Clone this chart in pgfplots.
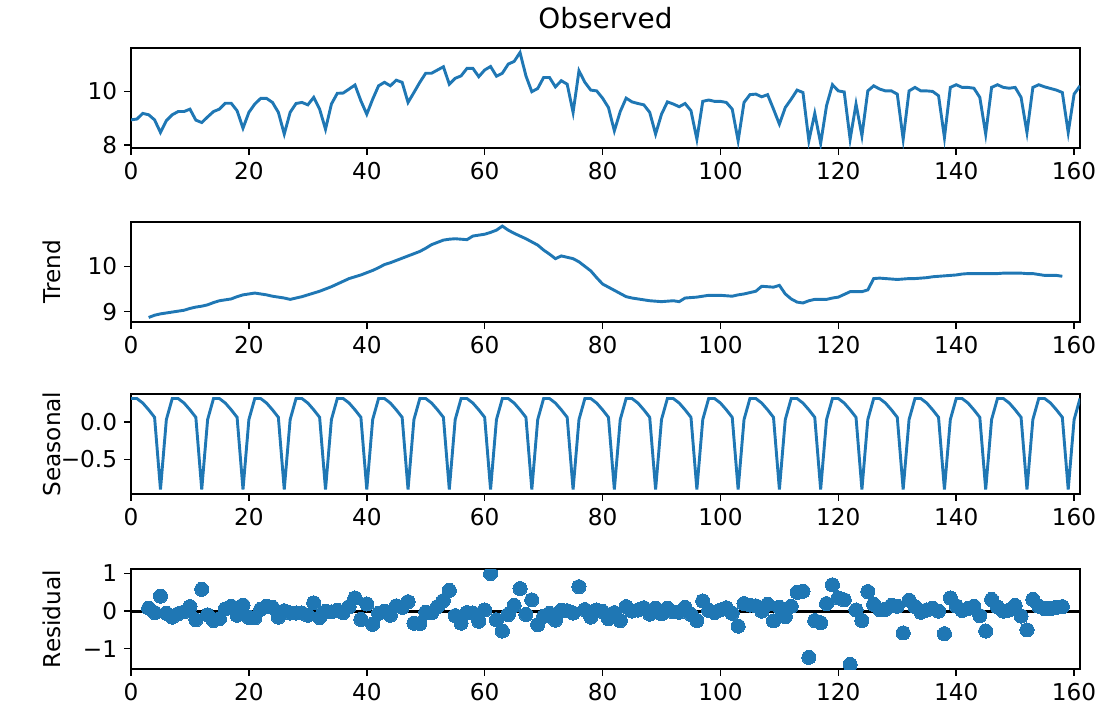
\documentclass[border=0pt]{standalone}
\usepackage{pgfplots}
\pgfplotsset{compat=1.18}
\usepackage{fontspec}
\setmainfont{DejaVu Sans}
\definecolor{c0}{HTML}{1F77B4}
\pgfplotsset{
  dec/.style={
    scale only axis, width=711.75pt, height=75pt,
    xmin=0, xmax=161,
    axis line style={line width=1.16pt, black},
    every tick/.style={line width=1.16pt, black},
    tick align=outside, major tick length=5.1pt,
    xtick pos=left, ytick pos=left,
    xtick={0,20,...,160}, xticklabels={0,20,40,60,80,100,120,140,160},
    tick label style={font=\fontsize{17.4}{20}\selectfont},
    xticklabel style={inner sep=0pt, yshift=-5.1pt},
    yticklabel style={inner sep=0pt, xshift=-5.1pt},
    label style={font=\fontsize{17.4}{20}\selectfont},
    ylabel style={at={(axis description cs:-0.0832,0.5)}, anchor=center},
    clip marker paths=true,
    anchor=south west,
  }
}
\begin{document}
\begin{tikzpicture}
\path[use as bounding box] (0,0) rectangle (826.5pt,-536.25pt);
% Observed
\begin{axis}[dec, at={(98.25pt,-111pt)},
  ymin=7.89, ymax=11.62, ytick={8,10}, yticklabels={8,10},
  title={Observed},
  title style={font=\fontsize{20.9}{24}\selectfont, at={(0.5,1)}, anchor=base, yshift=8.7pt, inner sep=0pt}]
\addplot[c0, line width=2.18pt] coordinates {
(0,8.94)(1,8.97)(2,9.18)(3,9.13)(4,8.94)(5,8.47)(6,8.91)(7,9.13)(8,9.25)(9,9.25)
(10,9.34)(11,8.93)(12,8.84)(13,9.05)(14,9.25)(15,9.34)(16,9.56)(17,9.56)(18,9.28)(19,8.63)
(20,9.22)(21,9.53)(22,9.74)(23,9.74)(24,9.59)(25,9.22)(26,8.41)(27,9.22)(28,9.55)(29,9.59)
(30,9.50)(31,9.78)(32,9.34)(33,8.59)(34,9.53)(35,9.93)(36,9.94)(37,10.09)(38,10.24)(39,9.65)
(40,9.15)(41,9.71)(42,10.21)(43,10.34)(44,10.21)(45,10.42)(46,10.34)(47,9.59)(48,9.96)(49,10.34)
(50,10.68)(51,10.68)(52,10.80)(53,10.92)(54,10.27)(55,10.49)(56,10.58)(57,10.86)(58,10.86)(59,10.55)
(60,10.80)(61,10.93)(62,10.57)(63,10.68)(64,11.02)(65,11.12)(66,11.45)(67,10.58)(68,9.99)(69,10.11)
(70,10.52)(71,10.52)(72,10.17)(73,10.40)(74,10.27)(75,9.22)(76,10.77)(77,10.34)(78,10.05)(79,10.02)
(80,9.75)(81,9.40)(82,8.53)(83,9.25)(84,9.75)(85,9.61)(86,9.55)(87,9.50)(88,9.22)(89,8.41)
(90,9.15)(91,9.61)(92,9.53)(93,9.43)(94,9.55)(95,9.28)(96,8.22)(97,9.63)(98,9.68)(99,9.63)
(100,9.63)(101,9.59)(102,9.34)(103,8.16)(104,9.59)(105,9.88)(106,9.90)(107,9.80)(108,9.88)(109,9.34)
(110,8.78)(111,9.40)(112,9.71)(113,10.05)(114,9.96)(115,8.16)(116,9.18)(117,8.06)(118,9.47)(119,10.25)
(120,10.02)(121,9.98)(122,8.22)(123,9.53)(124,8.35)(125,10.02)(126,10.21)(127,10.09)(128,10.02)(129,10.02)
(130,9.90)(131,8.22)(132,10.02)(133,10.15)(134,10.02)(135,10.02)(136,10.00)(137,9.84)(138,8.28)(139,10.15)
(140,10.25)(141,10.15)(142,10.15)(143,10.12)(144,9.78)(145,8.41)(146,10.15)(147,10.25)(148,10.15)(149,10.12)
(150,10.15)(151,9.78)(152,8.47)(153,10.15)(154,10.25)(155,10.17)(156,10.11)(157,10.05)(158,9.96)(159,8.47)
(160,9.90)(161,10.21)};
\end{axis}
% Trend
\begin{axis}[dec, at={(98.25pt,-241.5pt)},
  ymin=8.77, ymax=10.98, ytick={9,10}, yticklabels={9,10}, ylabel={Trend}]
\addplot[c0, line width=2.18pt] coordinates {
(3,8.87)(4,8.92)(5,8.95)(6,8.97)(7,8.99)(8,9.01)(9,9.03)
(10,9.07)(11,9.10)(12,9.12)(13,9.15)(14,9.20)(15,9.24)(16,9.26)(17,9.28)(18,9.33)(19,9.37)
(20,9.39)(21,9.41)(22,9.39)(23,9.37)(24,9.34)(25,9.32)(26,9.30)(27,9.27)(28,9.30)(29,9.33)
(30,9.37)(31,9.41)(32,9.45)(33,9.50)(34,9.55)(35,9.61)(36,9.67)(37,9.73)(38,9.77)(39,9.81)
(40,9.86)(41,9.91)(42,9.97)(43,10.04)(44,10.08)(45,10.13)(46,10.18)(47,10.23)(48,10.28)(49,10.33)
(50,10.40)(51,10.48)(52,10.53)(53,10.58)(54,10.60)(55,10.61)(56,10.60)(57,10.59)(58,10.67)(59,10.69)
(60,10.71)(61,10.75)(62,10.80)(63,10.89)(64,10.80)(65,10.73)(66,10.67)(67,10.61)(68,10.54)(69,10.47)
(70,10.36)(71,10.27)(72,10.17)(73,10.23)(74,10.20)(75,10.17)(76,10.10)(77,10.00)(78,9.90)(79,9.75)
(80,9.61)(81,9.54)(82,9.47)(83,9.40)(84,9.33)(85,9.30)(86,9.28)(87,9.26)(88,9.24)(89,9.23)
(90,9.22)(91,9.23)(92,9.24)(93,9.22)(94,9.30)(95,9.31)(96,9.32)(97,9.34)(98,9.36)(99,9.36)
(100,9.36)(101,9.35)(102,9.34)(103,9.37)(104,9.39)(105,9.42)(106,9.45)(107,9.56)(108,9.55)(109,9.54)
(110,9.58)(111,9.39)(112,9.28)(113,9.21)(114,9.19)(115,9.24)(116,9.27)(117,9.27)(118,9.27)(119,9.30)
(120,9.32)(121,9.38)(122,9.44)(123,9.44)(124,9.44)(125,9.48)(126,9.73)(127,9.74)(128,9.73)(129,9.72)
(130,9.71)(131,9.72)(132,9.73)(133,9.73)(134,9.74)(135,9.75)(136,9.77)(137,9.78)(138,9.79)(139,9.80)
(140,9.81)(141,9.83)(142,9.84)(143,9.84)(144,9.84)(145,9.84)(146,9.84)(147,9.84)(148,9.85)(149,9.85)
(150,9.85)(151,9.85)(152,9.84)(153,9.84)(154,9.82)(155,9.80)(156,9.80)(157,9.80)(158,9.78)};
\end{axis}
% Seasonal
\begin{axis}[dec, at={(98.25pt,-370.5pt)},
  ymin=-0.96, ymax=0.37, ytick={-0.5,0}, yticklabels={−0.5,0.0}, ylabel={Seasonal}]
\addplot[c0, line width=2.18pt] coordinates {
(0,0.31)(1,0.31)(2,0.25)(3,0.16)(4,0.06)(5,-0.90)(6,0.03)
(7,0.31)(8,0.31)(9,0.25)(10,0.16)(11,0.06)(12,-0.90)(13,0.03)
(14,0.31)(15,0.31)(16,0.25)(17,0.16)(18,0.06)(19,-0.90)(20,0.03)
(21,0.31)(22,0.31)(23,0.25)(24,0.16)(25,0.06)(26,-0.90)(27,0.03)
(28,0.31)(29,0.31)(30,0.25)(31,0.16)(32,0.06)(33,-0.90)(34,0.03)
(35,0.31)(36,0.31)(37,0.25)(38,0.16)(39,0.06)(40,-0.90)(41,0.03)
(42,0.31)(43,0.31)(44,0.25)(45,0.16)(46,0.06)(47,-0.90)(48,0.03)
(49,0.31)(50,0.31)(51,0.25)(52,0.16)(53,0.06)(54,-0.90)(55,0.03)
(56,0.31)(57,0.31)(58,0.25)(59,0.16)(60,0.06)(61,-0.90)(62,0.03)
(63,0.31)(64,0.31)(65,0.25)(66,0.16)(67,0.06)(68,-0.90)(69,0.03)
(70,0.31)(71,0.31)(72,0.25)(73,0.16)(74,0.06)(75,-0.90)(76,0.03)
(77,0.31)(78,0.31)(79,0.25)(80,0.16)(81,0.06)(82,-0.90)(83,0.03)
(84,0.31)(85,0.31)(86,0.25)(87,0.16)(88,0.06)(89,-0.90)(90,0.03)
(91,0.31)(92,0.31)(93,0.25)(94,0.16)(95,0.06)(96,-0.90)(97,0.03)
(98,0.31)(99,0.31)(100,0.25)(101,0.16)(102,0.06)(103,-0.90)(104,0.03)
(105,0.31)(106,0.31)(107,0.25)(108,0.16)(109,0.06)(110,-0.90)(111,0.03)
(112,0.31)(113,0.31)(114,0.25)(115,0.16)(116,0.06)(117,-0.90)(118,0.03)
(119,0.31)(120,0.31)(121,0.25)(122,0.16)(123,0.06)(124,-0.90)(125,0.03)
(126,0.31)(127,0.31)(128,0.25)(129,0.16)(130,0.06)(131,-0.90)(132,0.03)
(133,0.31)(134,0.31)(135,0.25)(136,0.16)(137,0.06)(138,-0.90)(139,0.03)
(140,0.31)(141,0.31)(142,0.25)(143,0.16)(144,0.06)(145,-0.90)(146,0.03)
(147,0.31)(148,0.31)(149,0.25)(150,0.16)(151,0.06)(152,-0.90)(153,0.03)
(154,0.31)(155,0.31)(156,0.25)(157,0.16)(158,0.06)(159,-0.90)(160,0.03)
(161,0.31)};
\end{axis}
% Residual
\begin{axis}[dec, at={(98.25pt,-501.75pt)},
  ymin=-1.54, ymax=1.12, ytick={-1,0,1}, yticklabels={−1,0,1}, ylabel={Residual}]
\addplot[black, line width=2.18pt] coordinates {(0,0) (161,0)};
\addplot[only marks, mark=*, mark size=5.3pt, mark options={draw=c0, fill=c0, line width=0pt}] coordinates {
(3,0.08)(4,-0.04)(5,0.40)(6,-0.06)(7,-0.16)(8,-0.07)(9,-0.02)
(10,0.12)(11,-0.23)(12,0.58)(13,-0.10)(14,-0.25)(15,-0.20)(16,0.06)(17,0.13)(18,-0.11)(19,0.16)
(20,-0.17)(21,-0.18)(22,0.05)(23,0.13)(24,0.10)(25,-0.16)(26,0.01)(27,-0.05)(28,-0.05)(29,-0.05)
(30,-0.11)(31,0.22)(32,-0.17)(33,-0.01)(34,-0.02)(35,0.02)(36,-0.04)(37,0.12)(38,0.35)(39,-0.22)
(40,0.19)(41,-0.35)(42,-0.06)(43,0.00)(44,-0.11)(45,0.14)(46,0.10)(47,0.25)(48,-0.32)(49,-0.33)
(50,-0.03)(51,-0.04)(52,0.12)(53,0.28)(54,0.55)(55,-0.12)(56,-0.32)(57,-0.04)(58,-0.05)(59,-0.27)
(60,0.03)(61,1.00)(62,-0.23)(63,-0.53)(64,-0.09)(65,0.15)(66,0.60)(67,-0.09)(68,0.30)(69,-0.36)
(70,-0.14)(71,-0.06)(72,-0.24)(73,0.02)(74,0.01)(75,-0.05)(76,0.65)(77,0.04)(78,-0.16)(79,0.03)
(80,-0.01)(81,-0.20)(82,-0.04)(83,-0.25)(84,0.12)(85,0.00)(86,0.03)(87,0.09)(88,-0.08)(89,0.08)
(90,-0.07)(91,0.08)(92,-0.02)(93,-0.03)(94,0.10)(95,-0.09)(96,-0.25)(97,0.27)(98,0.02)(99,-0.04)
(100,0.03)(101,0.09)(102,-0.06)(103,-0.40)(104,0.20)(105,0.16)(106,0.14)(107,0.00)(108,0.18)(109,-0.26)
(110,0.10)(111,-0.15)(112,0.13)(113,0.50)(114,0.53)(115,-1.23)(116,-0.25)(117,-0.31)(118,0.20)(119,0.70)
(120,0.35)(121,0.30)(122,-1.42)(123,0.03)(124,-0.25)(125,0.52)(126,0.18)(127,0.04)(128,0.05)(129,0.15)
(130,0.13)(131,-0.58)(132,0.29)(133,0.12)(134,-0.03)(135,0.03)(136,0.08)(137,0.00)(138,-0.60)(139,0.35)
(140,0.14)(141,0.02)(142,0.07)(143,0.13)(144,-0.12)(145,-0.53)(146,0.31)(147,0.11)(148,0.00)(149,0.03)
(150,0.15)(151,-0.13)(152,-0.50)(153,0.31)(154,0.13)(155,0.07)(156,0.07)(157,0.10)(158,0.12)};
\end{axis}
\end{tikzpicture}
\end{document}
